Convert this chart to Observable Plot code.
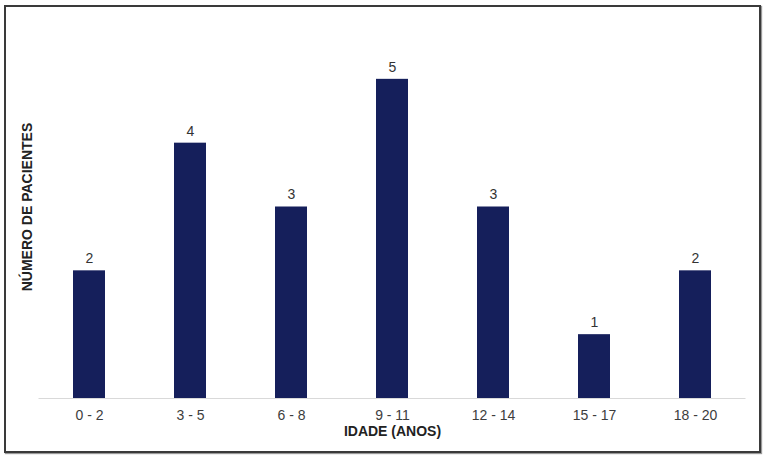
<!DOCTYPE html>
<html>
<head>
<meta charset="utf-8">
<script src="https://cdn.jsdelivr.net/npm/d3@7"></script>
<script src="https://cdn.jsdelivr.net/npm/@observablehq/plot@0.6"></script>
<style>
  html, body { margin: 0; padding: 0; background: #fff; }
  #wrap { position: relative; width: 767px; height: 461px; }
  #border { position: absolute; left: 4px; top: 5px; width: 753px; height: 444px; border: 2px solid #3a3a3a; box-shadow: 1px 1px 1px #999; pointer-events: none; }
  #chart { position: absolute; left: 0; top: 0; }
</style>
</head>
<body>
<div id="wrap"><div id="chart"></div><div id="border"></div></div>
<script>
const categories = ["0 - 2", "3 - 5", "6 - 8", "9 - 11", "12 - 14", "15 - 17", "18 - 20"];
const patients = [2, 4, 3, 5, 3, 1, 2];
const xLabel = "IDADE (ANOS)";
const yLabel = "NÚMERO DE PACIENTES";

const data = categories.map((c, i) => ({age: c, n: patients[i]}));
const font = "'Liberation Sans', Arial, sans-serif";

const chart = Plot.plot({
  width: 767,
  height: 461,
  marginLeft: 38.5,
  marginRight: 21.5,
  marginTop: 15,
  marginBottom: 63,
  style: {fontFamily: font, fontSize: "14px", background: "transparent"},
  x: {domain: categories, paddingInner: 0.68, paddingOuter: 0.34, label: null},
  y: {domain: [0, 6], axis: null},
  marks: [
    Plot.barY(data, {x: "age", y: "n", fill: "#151f5b"}),
    Plot.ruleY([0], {stroke: "#d9d9d9", strokeWidth: 1.2}),
    Plot.text(data, {x: "age", y: "n", text: d => String(d.n), dy: -12, fill: "#333", fontSize: 14, letterSpacing: "1px"}),
    Plot.axisX({tickSize: 0, tickPadding: 12, label: null, fill: "#3d3d3d", fontSize: 14, letterSpacing: "1.2px"}),
    Plot.text([xLabel], {frameAnchor: "bottom", dy: 37, fontWeight: "bold", fill: "#222", fontSize: 14, letterSpacing: "1.3px"}),
    Plot.text([yLabel], {frameAnchor: "left", dx: -11, rotate: -90, textAnchor: "middle", fontWeight: "bold", fill: "#222", fontSize: 14, letterSpacing: "0.4px"})
  ]
});
document.getElementById("chart").appendChild(chart);
</script>
</body>
</html>
